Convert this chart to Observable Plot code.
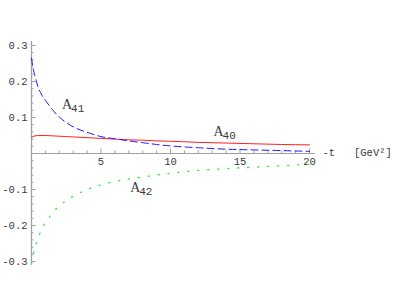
<!DOCTYPE html>
<html>
<head>
<meta charset="utf-8">
<script src="https://cdn.jsdelivr.net/npm/d3@7"></script>
<script src="https://cdn.jsdelivr.net/npm/@observablehq/plot@0.6"></script>
<style>
  html, body { margin: 0; padding: 0; background: #fff; }
  svg { display: block; }
</style>
</head>
<body>
<div id="chart"></div>
<script>
// -t values (GeV^2) at which the curves were read
const tGrid = [0, 0.1, 0.25, 0.5, 0.75, 1, 1.5, 2, 2.5, 3, 4, 5, 6, 7, 8, 9, 10, 12, 14, 16, 18, 20];
// A40 (red, solid)
const a40 = [0.045, 0.047, 0.049, 0.050, 0.050, 0.050, 0.049, 0.048, 0.047, 0.046, 0.044, 0.042, 0.040, 0.038, 0.037, 0.035, 0.034, 0.031, 0.029, 0.027, 0.025, 0.024];
// A41 (blue, dashed)
const a41 = [0.265, 0.240, 0.215, 0.182, 0.162, 0.148, 0.122, 0.101, 0.086, 0.074, 0.059, 0.047, 0.041, 0.035, 0.030, 0.025, 0.021, 0.016, 0.012, 0.010, 0.008, 0.006];
// A42 (green, dotted)
const a42 = [-0.305, -0.285, -0.262, -0.232, -0.209, -0.192, -0.166, -0.145, -0.131, -0.119, -0.100, -0.087, -0.078, -0.071, -0.065, -0.060, -0.055, -0.047, -0.042, -0.038, -0.034, -0.030];

const xMajor = [5, 10, 15, 20];
const xMinor = [1, 2, 3, 4, 6, 7, 8, 9, 11, 12, 13, 14, 16, 17, 18, 19];
const yMajor = [0.3, 0.2, 0.1, -0.1, -0.2, -0.3];
const yMinor = [-0.28, -0.26, -0.24, -0.22, -0.18, -0.16, -0.14, -0.12, -0.08, -0.06, -0.04, -0.02,
                0.02, 0.04, 0.06, 0.08, 0.12, 0.14, 0.16, 0.18, 0.22, 0.24, 0.26, 0.28];

// curve labels: subscript, position (t, value) of the "A"
const labelSubs = ["41", "40", "42"];
const labelT = [2.2, 13.1, 7.1];
const labelV = [0.136, 0.060, -0.095];

const series = [
  {name: "A40", values: a40},
  {name: "A41", values: a41},
  {name: "A42", values: a42}
];
const rows = series.flatMap(s => tGrid.map((t, i) => ({series: s.name, t, v: s.values[i]})));
const labels = labelSubs.map((s, i) => ({sub: s, t: labelT[i], v: labelV[i]}));

const mono = "Liberation Mono";
const serif = "Liberation Serif";
const axisColor = "#a0a0a0";
const textColor = "#3a3a3a";

const chart = Plot.plot({
  width: 399,
  height: 307,
  marginLeft: 31,
  marginRight: 84,
  marginTop: 41,
  marginBottom: 42,
  style: {background: "#fff", overflow: "visible", fontFamily: mono},
  x: {domain: [0, 20.43], axis: null},
  y: {domain: [-0.311, 0.311], axis: null},
  marks: [
    // axes lines
    Plot.ruleX([0], {stroke: axisColor, strokeWidth: 1.3}),
    Plot.ruleY([0], {stroke: axisColor, strokeWidth: 1}),
    // x ticks (upward)
    Plot.ruleX(xMajor, {x: d => d, y1: 0, y2: 4.5 / 360, stroke: axisColor}),
    Plot.ruleX(xMinor, {x: d => d, y1: 0, y2: 2.5 / 360, stroke: axisColor}),
    // y ticks (rightward)
    Plot.ruleY(yMajor, {y: d => d, x1: 0, x2: 4.5 / 13.9, stroke: axisColor}),
    Plot.ruleY(yMinor, {y: d => d, x1: 0, x2: 2.5 / 13.9, stroke: axisColor}),
    // tick labels
    Plot.text(xMajor, {x: d => d, y: 0, text: d => String(d), dy: 8, fontFamily: mono, fontSize: 10.5, fill: textColor}),
    Plot.text(yMajor, {x: 0, y: d => d, text: d => (d < 0 ? "-" : "") + Math.abs(d).toFixed(1), textAnchor: "end", dx: -4, fontFamily: mono, fontSize: 10.5, fill: textColor}),
    // axis label
    Plot.text(["-t   [GeV²]"], {x: 20.43, y: 0, text: d => d, textAnchor: "start", dx: 7, dy: -1, fontFamily: mono, fontSize: 10.5, fill: textColor}),
    // curves
    Plot.line(rows.filter(d => d.series === "A40"), {x: "t", y: "v", stroke: "#ff2020", strokeWidth: 1, curve: "monotone-x"}),
    Plot.line(rows.filter(d => d.series === "A41"), {x: "t", y: "v", stroke: "#1a1aff", strokeWidth: 1, strokeDasharray: "7,4", curve: "monotone-x"}),
    Plot.line(rows.filter(d => d.series === "A42"), {x: "t", y: "v", stroke: "#33ee33", strokeWidth: 1.3, strokeDasharray: "1.3,8.7", curve: "monotone-x"}),
    // curve labels
    Plot.text(labels, {x: "t", y: "v", text: () => "A", textAnchor: "start", fontFamily: serif, fontSize: 14, fill: textColor}),
    Plot.text(labels, {x: "t", y: "v", text: "sub", textAnchor: "start", dx: 9, dy: 3.5, fontFamily: mono, fontSize: 11, fill: textColor})
  ]
});
document.getElementById("chart").appendChild(chart);
</script>
</body>
</html>
